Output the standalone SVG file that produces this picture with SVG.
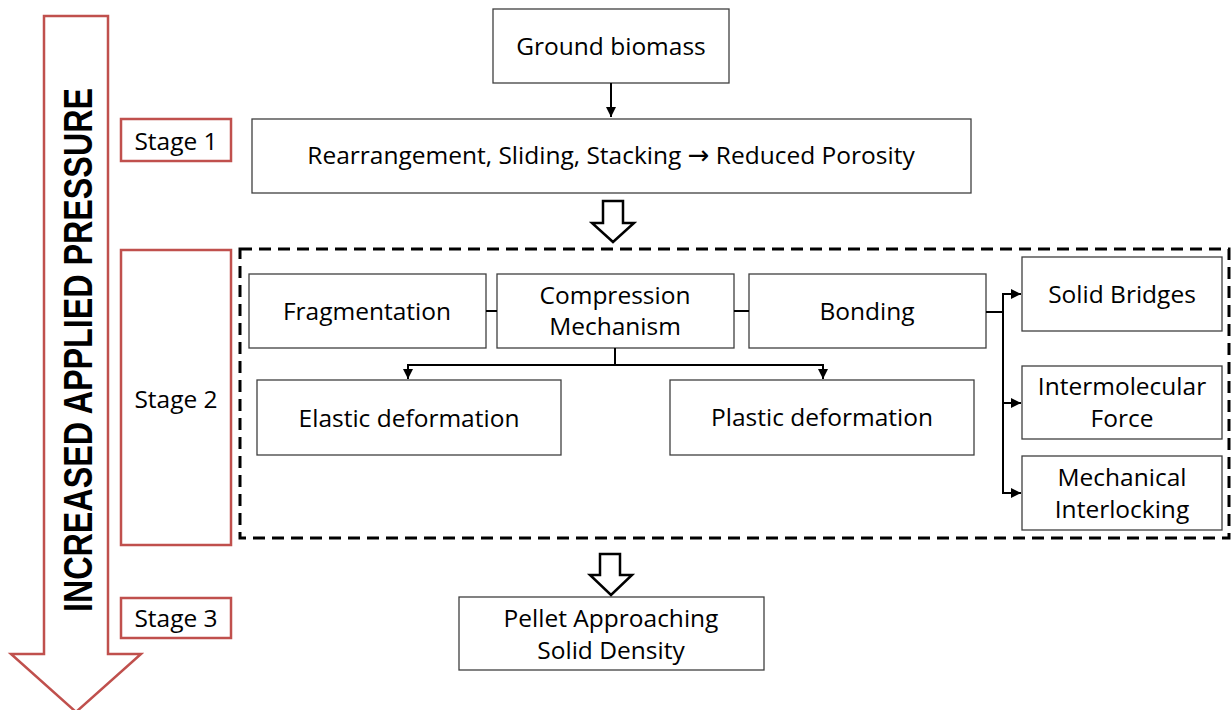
<svg xmlns="http://www.w3.org/2000/svg" width="1232" height="710" viewBox="0 0 1232 710">
  <style>
    .box { fill: #ffffff; stroke: #3f3f3f; stroke-width: 1.3; }
    .stage { fill: #ffffff; stroke: #c0504d; stroke-width: 2.5; }
    .lbl { font-family: "Open Sans", "Liberation Sans", sans-serif; font-size: 24.5px; fill: #000000; text-anchor: middle; }
    .conn { fill: none; stroke: #000000; stroke-width: 2; }
    .block { fill: #ffffff; stroke: #000000; stroke-width: 2.5; stroke-linejoin: miter; }
  </style>
  <defs>
    <marker id="tip" viewBox="0 0 10 10" refX="10" refY="5" markerWidth="5" markerHeight="5" orient="auto" markerUnits="strokeWidth">
      <path d="M0,0 L10,5 L0,10 z" fill="#000000"/>
    </marker>
  </defs>

  <rect width="1232" height="710" fill="#ffffff"/>

  <!-- pressure arrow down the left side -->
  <g id="pressure-arrow">
    <path d="M44,16 L108,16 L108,654 L141,654 L76,712 L11,654 L44,654 Z" fill="#ffffff" stroke="#c0504d" stroke-width="2.5"/>
    <text transform="translate(92,350) rotate(-90)" font-family="'Liberation Sans', Arial, sans-serif" font-weight="bold" font-size="40" text-anchor="middle" textLength="524" lengthAdjust="spacingAndGlyphs">INCREASED APPLIED PRESSURE</text>
  </g>

  <!-- stage labels -->
  <g id="stage1">
    <rect class="stage" x="121" y="119" width="110" height="42"/>
    <text class="lbl" x="176" y="150">Stage 1</text>
  </g>
  <g id="stage2">
    <rect class="stage" x="121" y="250" width="110" height="295"/>
    <text class="lbl" x="176" y="408">Stage 2</text>
  </g>
  <g id="stage3">
    <rect class="stage" x="121" y="598" width="110" height="40"/>
    <text class="lbl" x="176" y="627">Stage 3</text>
  </g>

  <!-- stage 2 frame -->
  <g id="stage2-frame">
    <rect x="240" y="249" width="989" height="289" fill="none" stroke="#000000" stroke-width="3" stroke-dasharray="12,7"/>
  </g>

  <!-- process nodes -->
  <g id="ground-biomass">
    <rect class="box" x="493" y="9" width="236" height="74"/>
    <text class="lbl" x="611" y="55">Ground biomass</text>
  </g>
  <g id="rearrangement">
    <rect class="box" x="252" y="119" width="719" height="74"/>
    <text class="lbl" x="611" y="164">Rearrangement, Sliding, Stacking <tspan font-family="'DejaVu Sans', sans-serif" font-size="26">→</tspan> Reduced Porosity</text>
  </g>
  <g id="fragmentation">
    <rect class="box" x="249" y="274" width="237" height="74"/>
    <text class="lbl" x="367" y="320">Fragmentation</text>
  </g>
  <g id="compression">
    <rect class="box" x="497" y="274" width="237" height="74"/>
    <text class="lbl" x="615" y="304">Compression</text>
    <text class="lbl" x="615" y="335">Mechanism</text>
  </g>
  <g id="bonding">
    <rect class="box" x="749" y="274" width="237" height="74"/>
    <text class="lbl" x="867" y="320">Bonding</text>
  </g>
  <g id="elastic">
    <rect class="box" x="257" y="380" width="304" height="75"/>
    <text class="lbl" x="409" y="427">Elastic deformation</text>
  </g>
  <g id="plastic">
    <rect class="box" x="670" y="380" width="304" height="75"/>
    <text class="lbl" x="822" y="426">Plastic deformation</text>
  </g>
  <g id="solid-bridges">
    <rect class="box" x="1022" y="257" width="200" height="74"/>
    <text class="lbl" x="1122" y="303">Solid Bridges</text>
  </g>
  <g id="intermolecular">
    <rect class="box" x="1022" y="366" width="200" height="73"/>
    <text class="lbl" x="1122" y="395">Intermolecular</text>
    <text class="lbl" x="1122" y="427">Force</text>
  </g>
  <g id="mechanical">
    <rect class="box" x="1022" y="456" width="200" height="74"/>
    <text class="lbl" x="1122" y="486">Mechanical</text>
    <text class="lbl" x="1122" y="518">Interlocking</text>
  </g>
  <g id="pellet">
    <rect class="box" x="459" y="597" width="305" height="73"/>
    <text class="lbl" x="611" y="627">Pellet Approaching</text>
    <text class="lbl" x="611" y="659">Solid Density</text>
  </g>

  <!-- connectors -->
  <g id="connectors">
    <line class="conn" x1="611" y1="83" x2="611" y2="117" marker-end="url(#tip)"/>
    <line class="conn" x1="486" y1="311" x2="497" y2="311"/>
    <line class="conn" x1="734" y1="311" x2="749" y2="311"/>
    <path class="conn" d="M615,348 V365"/>
    <path class="conn" d="M408,365 H823"/>
    <line class="conn" x1="408" y1="364" x2="408" y2="379" marker-end="url(#tip)"/>
    <line class="conn" x1="823" y1="364" x2="823" y2="379" marker-end="url(#tip)"/>
    <path class="conn" d="M986,312 H1003"/>
    <path class="conn" d="M1003,294 V493"/>
    <line class="conn" x1="1002" y1="294" x2="1021" y2="294" marker-end="url(#tip)"/>
    <line class="conn" x1="1002" y1="403" x2="1021" y2="403" marker-end="url(#tip)"/>
    <line class="conn" x1="1002" y1="493" x2="1021" y2="493" marker-end="url(#tip)"/>
    <!-- hollow block arrows between stages -->
    <path class="block" d="M603,201 H623 V223 H634 L613,242 L592,223 H603 Z"/>
    <path class="block" d="M600,554 H620 V575 H632 L611,595 L590,575 H600 Z"/>
  </g>
</svg>
